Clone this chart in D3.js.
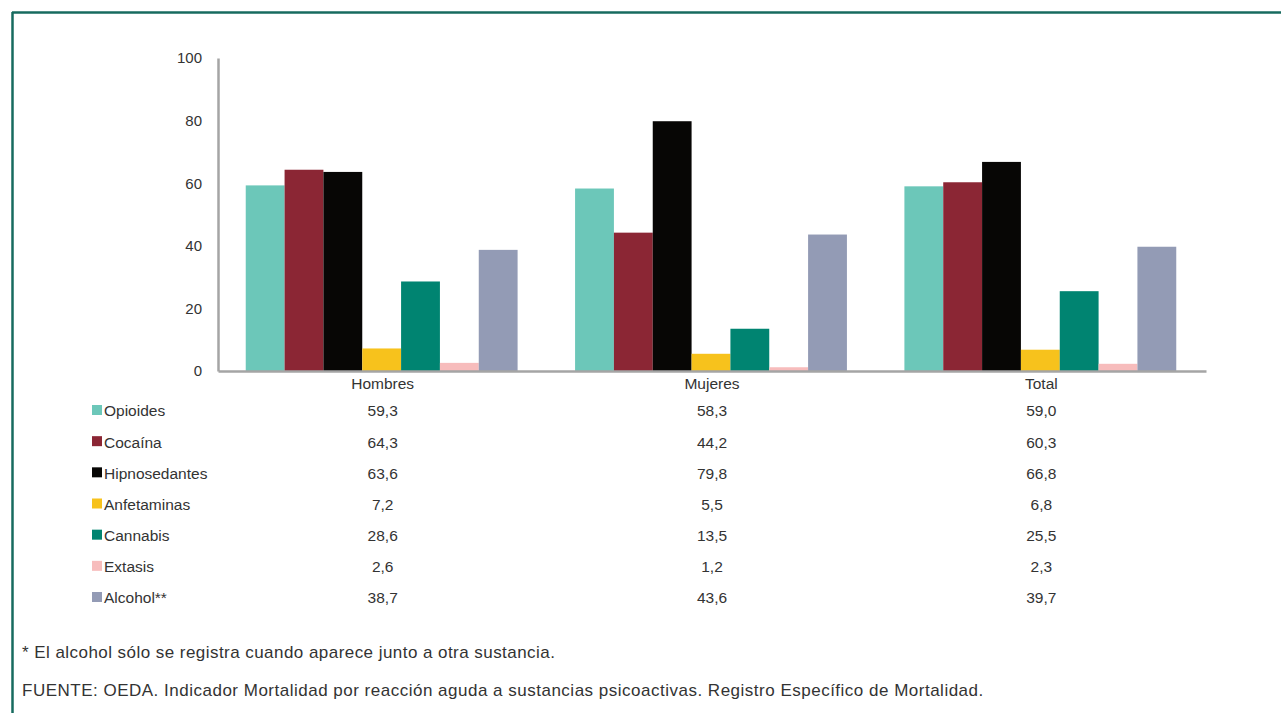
<!DOCTYPE html>
<html><head><meta charset="utf-8">
<script src="https://cdn.jsdelivr.net/npm/d3@7"></script>
<style>body{margin:0;background:#fff;}svg{display:block;}</style>
</head><body>
<script>
const groups = ["Hombres", "Mujeres", "Total"];
const series = ["Opioides", "Cocaína", "Hipnosedantes", "Anfetaminas", "Cannabis", "Extasis", "Alcohol**"];
const colors = ["#6CC7B9", "#8B2634", "#070605", "#F7C21C", "#008471", "#F7BCBC", "#939BB5"];
const opioides = [59.3, 58.3, 59.0];
const cocaina = [64.3, 44.2, 60.3];
const hipnosedantes = [63.6, 79.8, 66.8];
const anfetaminas = [7.2, 5.5, 6.8];
const cannabis = [28.6, 13.5, 25.5];
const extasis = [2.6, 1.2, 2.3];
const alcohol = [38.7, 43.6, 39.7];
const values = [opioides, cocaina, hipnosedantes, anfetaminas, cannabis, extasis, alcohol];
const yTicks = [0, 20, 40, 60, 80, 100];
const footnote = "* El alcohol sólo se registra cuando aparece junto a otra sustancia.";
const source = "FUENTE: OEDA. Indicador Mortalidad por reacción aguda a sustancias psicoactivas. Registro Específico de Mortalidad.";

const W = 1281, H = 713;
const svg = d3.select("body").append("svg").attr("width", W).attr("height", H);
const font = "'Liberation Sans', Arial, sans-serif";
const txt = "#333";

// frame
svg.append("line").attr("x1", 12).attr("x2", W).attr("y1", 12.5).attr("y2", 12.5).attr("stroke", "#176B5F").attr("stroke-width", 2.5);
svg.append("line").attr("x1", 12.5).attr("x2", 12.5).attr("y1", 12).attr("y2", H).attr("stroke", "#176B5F").attr("stroke-width", 2.5);

const x0 = d3.scaleBand().domain(groups).range([218, 1206]).paddingInner(0).paddingOuter(0);
const x1 = d3.scaleBand().domain(series).range([0, x0.bandwidth()]).paddingInner(0).paddingOuter(0.74);
const y = d3.scaleLinear().domain([0, 100]).range([371, 58]);

const bars = svg.append("g");
series.forEach((s, i) => {
  bars.selectAll(null).data(groups).enter().append("rect")
    .attr("x", g => x0(g) + x1(s) - 1)
    .attr("width", x1.bandwidth())
    .attr("y", (g, j) => y(values[i][j]))
    .attr("height", (g, j) => y(0) - y(values[i][j]))
    .attr("fill", colors[i]);
});

// y axis
const yAxis = svg.append("g").attr("transform", "translate(218,0)")
  .call(d3.axisLeft(y).tickValues(yTicks).tickSize(0).tickPadding(16));
yAxis.select(".domain").attr("stroke", "#A5A5A5").attr("stroke-width", 2.5);
yAxis.selectAll("text").attr("font-family", font).attr("font-size", 15).attr("fill", txt);

// x axis
const xAxis = svg.append("g").attr("transform", "translate(0,371)")
  .call(d3.axisBottom(x0).tickSize(0).tickPadding(7));
xAxis.select(".domain").attr("stroke", "#A5A5A5").attr("stroke-width", 2.5);
xAxis.selectAll("text").attr("font-family", font).attr("font-size", 15.5).attr("fill", txt);

// data table
const rowY = d3.scalePoint().domain(series).range([411, 598]);
const table = svg.append("g").attr("font-family", font).attr("font-size", 15.5).attr("fill", txt);
series.forEach((s, i) => {
  table.append("rect").attr("x", 92).attr("y", rowY(s) - 6).attr("width", 10).attr("height", 10).attr("fill", colors[i]);
  table.append("text").attr("x", 104).attr("y", rowY(s)).attr("dy", "0.35em").text(s);
  groups.forEach((g, j) => {
    table.append("text").attr("x", x0(g) + x0.bandwidth() / 2).attr("y", rowY(s)).attr("dy", "0.35em")
      .attr("text-anchor", "middle").text(values[i][j].toFixed(1).replace(".", ","));
  });
});

svg.append("text").attr("x", 22).attr("y", 652).attr("dy", "0.35em").attr("font-family", font).attr("font-size", 17).attr("letter-spacing", 0.45).attr("fill", txt).text(footnote);
svg.append("text").attr("x", 22).attr("y", 690).attr("dy", "0.35em").attr("font-family", font).attr("font-size", 17).attr("letter-spacing", 0.5).attr("fill", txt).text(source);
</script>
</body></html>
